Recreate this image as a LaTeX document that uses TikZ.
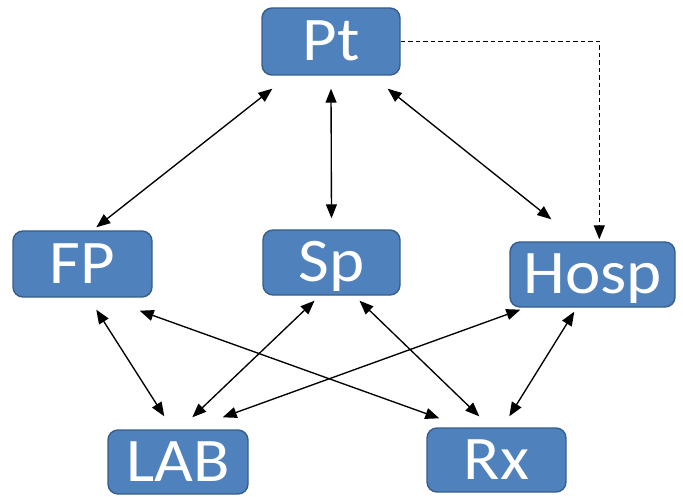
\documentclass[tikz,border=0pt]{standalone}
\usepackage{fontspec}
\setmainfont{Carlito}[FakeStretch=1.08]
\usetikzlibrary{arrows.meta,calc}

\definecolor{boxfill}{HTML}{4F81BD}
\definecolor{boxline}{HTML}{385D8A}

\tikzset{
  unit/.style={draw=boxline, line width=1.4pt, fill=boxfill, rounded corners=10pt,
    text=white, font=\fontsize{62}{62}\selectfont, inner sep=0pt,
    text height=39pt, text depth=0pt, align=center},
  link/.style={line width=1.35pt, {Triangle[length=14pt,width=11pt]}-{Triangle[length=14pt,width=11pt]}},
  hint/.style={line width=1.35pt, dash pattern=on 4.5pt off 3pt, -{Triangle[length=14pt,width=11pt]}}
}

\begin{document}
\begin{tikzpicture}[x=1pt, y=-1pt]
  \useasboundingbox (0,0) rectangle (683,497);

  % care settings
  \node[unit, minimum width=138pt, minimum height=67pt] (Pt)   at (331,41.5)  {Pt};
  \node[unit, minimum width=139pt, minimum height=66pt] (FP)   at (82.5,264)  {FP};
  \node[unit, minimum width=137pt, minimum height=65pt] (Sp)   at (331.5,262.5) {Sp};
  \node[unit, minimum width=165pt, minimum height=65pt] (Hosp) at (592.5,274.5) {Hosp};
  \node[unit, minimum width=140pt, minimum height=64pt] (LAB)  at (178,462)   {LAB};
  \node[unit, minimum width=139pt, minimum height=64pt] (Rx)   at (496.5,460) {Rx};

  % patient links
  \draw[link] ($(Pt.south west)+(11,13)$) -- ($(FP.north west)+(84,-3)$);
  \draw[link] ($(Pt.south)+(0,13)$) -- ($(Sp.north)+(0,-11)$);
  \draw[link] ($(Pt.south east)+(-13,13)$) -- ($(Hosp.north west)+(42,-22)$);
  \draw[hint] (Pt.east) -| ($(Hosp.north west)+(90,-2)$);

  % provider links
  \draw[link] ($(FP.south west)+(84,12)$) -- ($(LAB.north west)+(57,-13)$);
  \draw[link] ($(FP.south east)+(-13,13)$) -- ($(Rx.north west)+(13,-9)$);
  \draw[link] ($(Sp.south)+(-17,5)$) -- ($(LAB.north west)+(85,-12)$);
  \draw[link] ($(Sp.south)+(28,5)$) -- ($(Rx.north west)+(53,-11)$);
  \draw[link] ($(Hosp.south west)+(11,2)$) -- ($(LAB.north east)+(-26,-12)$);
  \draw[link] ($(Hosp.south west)+(65,4)$) -- ($(Rx.north west)+(83,-11)$);
\end{tikzpicture}
\end{document}
